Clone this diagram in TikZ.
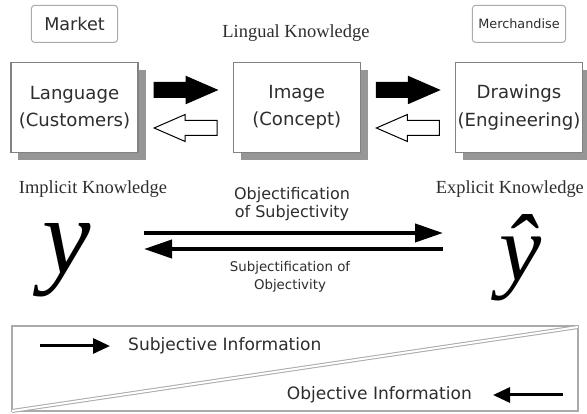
\documentclass[tikz,border=0pt]{standalone}
\usepackage{fontspec}
\setmainfont{Liberation Serif}
\newfontfamily\gothicfont{DejaVu Sans}
\usetikzlibrary{arrows.meta,positioning,calc,shadows}
\definecolor{BoxGray}{RGB}{130,130,130}
\definecolor{ShadowGray}{RGB}{150,150,150}
\definecolor{FrameGray}{RGB}{170,170,170}
\definecolor{TextGray}{RGB}{45,45,45}
\tikzset{
  mainbox/.style={draw=BoxGray, line width=0.25mm, fill=white, minimum width=25.4mm, minimum height=18mm,
    inner xsep=1pt, align=center, text=TextGray, font=\gothicfont\fontsize{10.3}{15.4}\selectfont,
    drop shadow={shadow xshift=1.5mm, shadow yshift=-1.6mm, fill=ShadowGray, opacity=1}},
  tagbox/.style={draw=FrameGray, line width=0.2mm, rounded corners=0.6mm, minimum height=7.4mm, text=TextGray},
  fatarrow/.style={draw=black, line width=0.2mm, line join=miter},
  objarrow/.style={line width=0.8mm, -{Triangle[length=5.6mm,width=3.6mm]}},
  infoarrow/.style={line width=0.6mm, -{Triangle[length=3.4mm,width=3mm]}},
  serifnote/.style={text=TextGray, inner sep=1pt, font=\fontsize{10.5}{12}\selectfont},
  sansnote/.style={text=TextGray, font=\gothicfont\fontsize{9.7}{12}\selectfont}
}
\begin{document}
\begin{tikzpicture}[x=0.2mm, y=-0.2mm]
      \useasboundingbox (0,0) rectangle (587,414);
      % three stages
      \node[mainbox] (lang) at (74.5,107.5) {Language\\(Customers)};
      \node[mainbox, right=18.8mm of lang] (img) {Image\\(Concept)};
      \node[mainbox, right=18.8mm of img] (drw) {Drawings\\(Engineering)};
      \node[tagbox, minimum width=17.2mm, font=\gothicfont\fontsize{10}{12}\selectfont, above=3.8mm of lang] (market) {Market};
      \node[tagbox, minimum width=17.6mm, font=\gothicfont\fontsize{7.3}{9}\selectfont, above=3.8mm of drw] (merch) {Merchandise};
      \node[serifnote] (lingual) at (296,33) {Lingual Knowledge};
      % block arrows between the stages
      \coordinate (fwdA) at ($(lang.east)!0.5!(img.west)+(0,-17.5)$);
      \coordinate (backA) at ($(lang.east)!0.5!(img.west)+(0,20.5)$);
      \coordinate (fwdB) at ($(img.east)!0.5!(drw.west)+(0,-17.5)$);
      \coordinate (backB) at ($(img.east)!0.5!(drw.west)+(0,20.5)$);
      \draw[fatarrow, fill=black] (fwdA) ++(-31.5,-7.5) -- ++(32,0) -- ++(0,-6) -- ++(31,13.5) -- ++(-31,13.5) -- ++(0,-6) -- ++(-32,0) -- cycle;
      \draw[fatarrow, fill=black] (fwdB) ++(-31.5,-7.5) -- ++(32,0) -- ++(0,-6) -- ++(31,13.5) -- ++(-31,13.5) -- ++(0,-6) -- ++(-32,0) -- cycle;
      \draw[fatarrow, fill=white] (backA) ++(31.5,-7.5) -- ++(-32,0) -- ++(0,-6) -- ++(-31,13.5) -- ++(31,13.5) -- ++(0,-6) -- ++(32,0) -- cycle;
      \draw[fatarrow, fill=white] (backB) ++(31.5,-7.5) -- ++(-32,0) -- ++(0,-6) -- ++(-31,13.5) -- ++(31,13.5) -- ++(0,-6) -- ++(32,0) -- cycle;
      % y and y-hat
      \node[serifnote] (implicit) at (93,189) {Implicit Knowledge};
      \node[serifnote, anchor=east] (explicit) at (586,189) {Explicit Knowledge};
      \node[anchor=base, inner sep=0pt, text height=0.47em, text depth=0.22em, font=\fontsize{62}{62}\selectfont\itshape] (ysym) at (67,274) {y};
      \node[anchor=base, inner sep=0pt, text height=0.8em, text depth=0.22em, font=\fontsize{54}{54}\selectfont\itshape] (yhat) at (521,281) {ŷ};
      \coordinate (objL) at (144,233);
      \coordinate (objR) at (443,233);
      \coordinate (subL) at (144,249);
      \coordinate (subR) at (443,249);
      \draw[objarrow] (objL) -- (objR);
      \draw[objarrow] (subR) -- (subL);
      \node[text=TextGray, align=center, font=\gothicfont\fontsize{9.1}{10.2}\selectfont] (objsub) at (292,204) {Objectification\\of Subjectivity};
      \node[text=TextGray, align=center, font=\gothicfont\fontsize{7.6}{10.2}\selectfont] (subobj) at (290,277) {Subjectification of\\Objectivity};
      % information band
      \draw[FrameGray, line width=0.3mm] (12,326) rectangle (578,411);
      \draw[FrameGray, double, double distance=0.4mm, line width=0.2mm] (12,411) -- (578,327);
      \coordinate (subjA) at (40,346);
      \coordinate (subjB) at (110,346);
      \coordinate (objA) at (563,395);
      \coordinate (objB) at (493,395);
      \draw[infoarrow] (subjA) -- (subjB);
      \draw[infoarrow] (objA) -- (objB);
      \node[sansnote, anchor=west] (subjinfo) at (122,346) {Subjective Information};
      \node[sansnote, anchor=east] (objinfo) at (478,395) {Objective Information};
    \end{tikzpicture}
\end{document}
